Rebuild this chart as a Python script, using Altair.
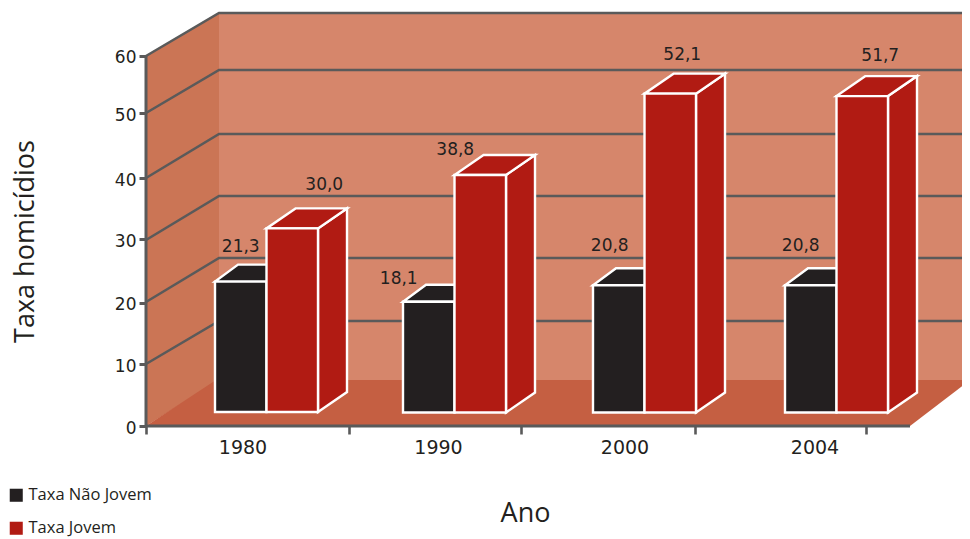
import altair as alt
import pandas as pd

# ---- data ----
YEARS = ["1980", "1990", "2000", "2004"]
NAO_JOVEM = [21.3, 18.1, 20.8, 20.8]
JOVEM = [30.0, 38.8, 52.1, 51.7]
SERIES = ["Taxa Não Jovem", "Taxa Jovem"]
Y_TICKS = [0, 10, 20, 30.3, 40.2, 50.7, 60]

# ---- layout (page pixels of the reference) ----
PAGE_L, PAGE_R, PAGE_T, PAGE_B = 8, 962, 8, 539
W, H = PAGE_R - PAGE_L, PAGE_B - PAGE_T
AX_X, AX_Y, PX_PER_UNIT = 146, 426, 6.167
WALL_X, WALL_R = 219, 962
FLOOR_Y, FLOOR_R = 380, 910
BACK_LEVELS = [321, 258, 196, 134, 70, 13]
FRONT_LEVELS = [364, 302, 240, 178, 113, 56]
BAR_LEFT = [215, 403, 593, 785]
BAR_W = 51.5
BASE = [412, 412.5, 412.5, 412.5]
K = 6.12
LABEL_OFF = {
    "Taxa Não Jovem": [(0, -35), (-30, -23), (-9, -39), (-10, -39)],
    "Taxa Jovem": [(32, -43), (-25, -25), (12, -39), (18, -40)],
}
DEPTH = {"Taxa Não Jovem": (23, 17), "Taxa Jovem": (29, 20)}
X_TICK_POS = [146, 349, 521, 695, 866]
X_LABEL_POS = [243, 438.5, 625, 815]
COLORS = ["#231f20", "#b11b13"]
GRID = "#5a5a5a"
FONT = "DejaVu Sans"


def val(p):
    return (AX_Y - p) / PX_PER_UNIT


xs = alt.Scale(domain=[PAGE_L, PAGE_R], range=[0, W], nice=False, zero=False)
ys = alt.Scale(domain=[val(PAGE_B), val(PAGE_T)], range=[H, 0], nice=False, zero=False)
cs = alt.Scale(domain=SERIES, range=COLORS)

y_axis = alt.Axis(
    values=Y_TICKS, labelExpr="format(round(datum.value/10)*10,'d')", offset=-(AX_X - PAGE_L),
    domain=False, grid=False, tickColor=GRID, tickWidth=3, tickSize=7,
    labelFont=FONT, labelFontSize=17, labelColor="#231f20", labelPadding=3, labelOffset=2,
    title="Taxa homicídios", titleFont="Open Sans", titleFontSize=27, titleFontWeight="normal",
    titleColor="#231f20", titleAngle=270, titleX=-107, titleY=233,
)
x_axis = alt.Axis(
    values=X_TICK_POS, labels=False, offset=-(PAGE_B - AX_Y), domain=False, grid=False,
    tickColor=GRID, tickWidth=2.6, tickSize=8,
    title="Ano", titleFont="Open Sans", titleFontSize=27, titleFontWeight="normal",
    titleColor="#231f20", titleX=517, titleY=74,
)
legend = alt.Legend(
    title=None, orient="none", legendX=0, legendY=479, symbolType="square",
    symbolSize=170, symbolStrokeWidth=0, labelFont="Open Sans", labelFontSize=16.5,
    labelColor="#231f20", rowPadding=16, labelOffset=4, symbolOffset=0, padding=0,
)


def X(f="x"):
    return alt.X(f"{f}:Q", scale=xs, title="Ano", axis=x_axis)


def Y(f="y"):
    return alt.Y(f"{f}:Q", scale=ys, title="Taxa homicídios", axis=y_axis)


def C():
    return alt.Color("s:N", scale=cs, sort=SERIES, legend=legend)


def rows_v(pts, face, **extra):
    return [dict(x=a, y=val(b), y2=val(c), face=face, **extra) for a, b, c in pts]


# background
wall_left = pd.DataFrame(rows_v([(AX_X, 56, AX_Y), (WALL_X, 13, FLOOR_Y)], "l"))
wall_back = pd.DataFrame(rows_v([(WALL_X, 13, FLOOR_Y), (WALL_R, 13, FLOOR_Y)], "b"))
floor = pd.DataFrame([
    dict(y=val(FLOOR_Y), x=WALL_X - 3, x2=970),
    dict(y=val(AX_Y), x=AX_X, x2=FLOOR_R),
])
layers = [
    alt.Chart(wall_left).mark_area(color="#cb7555").encode(x=X(), y=Y(), y2="y2:Q"),
    alt.Chart(wall_back).mark_area(color="#d6866b").encode(x=X(), y=Y(), y2="y2:Q"),
    alt.Chart(floor).mark_area(color="#c55f42", orient="horizontal", clip=True).encode(
        y=Y(), x=X(), x2="x2:Q"),
]

# grid
grid_rows = []
for i, (f, b) in enumerate(zip(FRONT_LEVELS, BACK_LEVELS)):
    for o, (a, p) in enumerate([(AX_X, f), (WALL_X, b), (WALL_R, b)]):
        grid_rows.append(dict(x=a, y=val(p), lvl=i, o=o))
layers.append(
    alt.Chart(pd.DataFrame(grid_rows)).mark_line(color=GRID, strokeWidth=2.6).encode(
        x=X(), y=Y(), detail="lvl:N", order="o:Q")
)

# bars
side, top, front, text = [], [], [], []
for s, values in zip(SERIES, [NAO_JOVEM, JOVEM]):
    dx, dy = DEPTH[s]
    off = 0 if s == SERIES[0] else 1
    for i, v in enumerate(values):
        l = BAR_LEFT[i] + off * BAR_W
        r = l + BAR_W
        b = BASE[i]
        t = b - K * v
        name = f"{s}{i}"
        if off:
            side += rows_v([(r, t, b), (r + dx, t - dy, b - dy)], name, s=s)
        top += [dict(y=val(t), x=l, x2=r, face=name, s=s),
                dict(y=val(t - dy), x=l + dx, x2=r + dx, face=name, s=s)]
        front.append(dict(x=l, x2=r, y=val(t), y2=val(b), s=s))
        ox, oy = LABEL_OFF[s][i]
        text.append(dict(x=(l + r) / 2 + ox, y=val(t + oy), t=f"{v:.1f}".replace(".", ",")))

layers += [
    alt.Chart(pd.DataFrame(side)).mark_area(stroke="white", strokeWidth=2.4).encode(
        x=X(), y=Y(), y2="y2:Q", detail="face:N", color=C()),
    alt.Chart(pd.DataFrame(top)).mark_area(stroke="white", strokeWidth=2.4, orient="horizontal").encode(
        y=Y(), x=X(), x2="x2:Q", detail="face:N", color=C()),
    alt.Chart(pd.DataFrame(front)).mark_rect(stroke="white", strokeWidth=2.4).encode(
        x=X(), x2="x2:Q", y=Y(), y2="y2:Q", color=C()),
    alt.Chart(pd.DataFrame(text)).mark_text(
        font=FONT, fontSize=17, color="#231f20", baseline="middle").encode(
        x=X(), y=Y(), text="t:N"),
]

# axis lines
axis_lines = pd.DataFrame([
    dict(x=AX_X, y=val(56), o=0), dict(x=AX_X, y=val(AX_Y), o=1),
    dict(x=FLOOR_R, y=val(AX_Y), o=2),
])
layers.append(
    alt.Chart(axis_lines).mark_line(color=GRID, strokeWidth=3).encode(
        x=X(), y=Y(), order="o:Q")
)
year_df = pd.DataFrame({"x": X_LABEL_POS, "y": [val(448)] * 4, "t": YEARS})
layers.append(
    alt.Chart(year_df).mark_text(font=FONT, fontSize=19, color="#231f20", baseline="middle").encode(
        x=X(), y=Y(), text="t:N")
)

chart = alt.layer(*layers).properties(
    width=W, height=H, padding=0, autosize=alt.AutoSizeParams(type="none"),
).configure_view(stroke=None)

chart.save("out.html", embed_options={"renderer": "svg", "actions": False})
